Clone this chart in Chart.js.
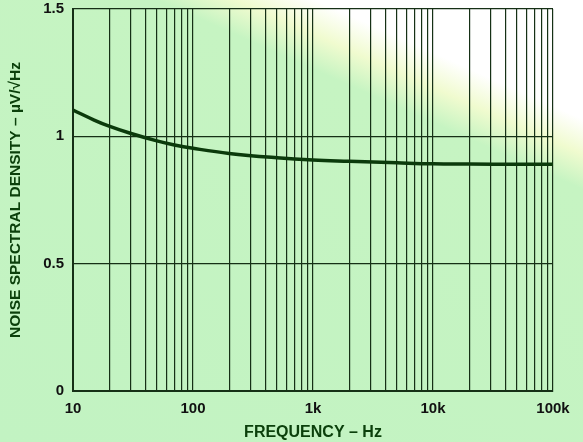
<!DOCTYPE html>
<html>
<head>
<meta charset="utf-8">
<script src="https://cdn.jsdelivr.net/npm/chart.js@4"></script>
<style>
  html, body { margin: 0; padding: 0; }
  body {
    width: 583px; height: 442px; overflow: hidden;
    background: linear-gradient(204deg, #ffffff 0%, #ffffff 17%, #f0fbcf 22%, #c6f4c2 27%, #c2f3c2 100%);
  }
  #wrap { position: relative; width: 583px; height: 442px; }
</style>
</head>
<body>
<div id="wrap"><canvas id="myChart" width="583" height="442"></canvas></div>
<script>
// frequency in Hz, noise in uV/rtHz
const freqs = [10, 15, 20, 30, 50, 70, 100, 200, 500, 1000, 2000, 5000, 10000, 20000, 50000, 100000];
const noise = [1.103, 1.064, 1.04, 1.012, 0.982, 0.966, 0.953, 0.933, 0.916, 0.907, 0.902, 0.896, 0.892, 0.891, 0.89, 0.89];
const xTickLabels = { 10: "10", 100: "100", 1000: "1k", 10000: "10k", 100000: "100k" };
const yTicks = [0, 0.5, 1, 1.5];

const gridColor = "#163016";
const titleColor = "#0b400b";
const font = { family: "Liberation Sans, Arial, sans-serif", weight: "bold", size: 15 };

const ctx = document.getElementById("myChart").getContext("2d");

new Chart(ctx, {
  type: "line",
  data: {
    datasets: [
      {
        data: freqs.map((f, i) => ({ x: f, y: noise[i] })),
        borderColor: "#0b3a0b",
        borderWidth: 3.5,
        tension: 0.4,
        pointRadius: 0,
        fill: false,
      },
    ],
  },
  options: {
    responsive: false,
    animation: false,
    layout: { padding: { left: 6, right: 30, top: 9, bottom: 0 } },
    plugins: { legend: { display: false }, tooltip: { enabled: false } },
    scales: {
      x: {
        type: "logarithmic",
        min: 10,
        max: 100000,
        afterBuildTicks: (scale) => {
          const t = [];
          for (let d = 10; d < 100000; d *= 10) {
            for (let m = 1; m < 10; m++) t.push({ value: d * m });
          }
          t.push({ value: 100000 });
          scale.ticks = t;
        },
        afterFit: (scale) => {
          scale.height = 51;
          scale.paddingLeft = 0;
          scale.paddingRight = 0;
        },
        ticks: {
          autoSkip: false,
          maxRotation: 0,
          color: "#111",
          font: font,
          padding: 9,
          callback: (v) => xTickLabels[v] || "",
        },
        grid: { color: gridColor, lineWidth: 1.2, drawTicks: false },
        border: { color: gridColor, width: 2 },
        title: {
          display: true,
          text: "FREQUENCY – Hz",
          color: titleColor,
          font: { family: font.family, weight: "bold", size: 16 },
          padding: { top: 0, bottom: 0 },
        },
      },
      y: {
        min: 0,
        max: 1.5,
        afterBuildTicks: (scale) => { scale.ticks = yTicks.map((v) => ({ value: v })); },
        afterFit: (scale) => {
          scale.width = 67;
          scale.paddingTop = 0;
          scale.paddingBottom = 0;
        },
        ticks: {
          color: "#111",
          font: font,
          padding: 9,
          callback: (v) => String(v),
        },
        grid: { color: gridColor, lineWidth: 1.2, drawTicks: false },
        border: { color: gridColor, width: 2 },
        title: {
          display: true,
          text: "NOISE SPECTRAL DENSITY – µV/√Hz",
          color: titleColor,
          font: { family: font.family, weight: "bold", size: 15.5 },
          padding: { top: 0, bottom: 0 },
        },
      },
    },
  },
});
</script>
</body>
</html>
